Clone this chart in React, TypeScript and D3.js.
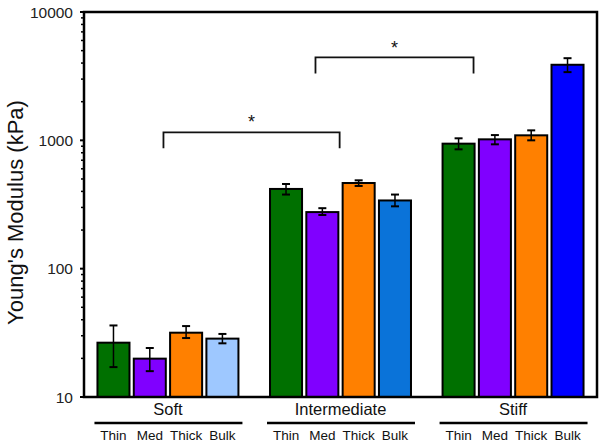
import React from "react";
import * as d3 from "d3";

const groups = ["Soft", "Intermediate", "Stiff"];
const types = ["Thin", "Med", "Thick", "Bulk"];
// values [group][type]
const means = [
  [26.5, 19.9, 31.7, 28.5],
  [418, 276, 465, 340],
  [942, 1018, 1094, 3880],
];
const errLow = [
  [17.1, 15.9, 28.8, 26.2],
  [378, 262, 441, 306],
  [851, 931, 1000, 3400],
];
const errHigh = [
  [36.1, 24.1, 35.7, 31.0],
  [457, 296, 488, 378],
  [1037, 1099, 1196, 4366],
];
const colors = [
  ["#007000", "#8000ff", "#ff8000", "#9ec8ff"],
  ["#007000", "#8000ff", "#ff8000", "#0a73d9"],
  ["#007000", "#8000ff", "#ff8000", "#0000ff"],
];
const yTicks = [10, 100, 1000, 10000];
// brackets: group-position ends, value of top line, tips and star
const brackets = [
  { from: -0.026, to: 0.995, top: 1154, tip: 866, star: 1560 },
  { from: 0.855, to: 1.771, top: 4425, tip: 3320, star: 5900 },
];

export default function App() {
  const W = 600,
    H = 445;
  const left = 84,
    right = 597,
    top = 12,
    bottom = 397;
  const y = d3.scaleLog().domain([10, 10000]).range([bottom, top]);
  const gx = d3
    .scaleBand<string>()
    .domain(groups)
    .range([left, right])
    .paddingInner(0.183)
    .paddingOuter(0.078);
  const bx = d3
    .scaleBand<string>()
    .domain(types)
    .range([0, gx.bandwidth()])
    .paddingInner(0.118)
    .paddingOuter(0);
  const gCenter = d3
    .scaleLinear()
    .domain([0, 1])
    .range([
      (gx(groups[0]) as number) + gx.bandwidth() / 2,
      (gx(groups[1]) as number) + gx.bandwidth() / 2,
    ]);

  const minorTicks: number[] = [];
  for (let d = 10; d < 10000; d *= 10) {
    for (let k = 2; k <= 9; k++) minorTicks.push(d * k);
  }

  const font = "Arial, 'Liberation Sans', sans-serif";
  const capW = 4;

  return (
    <svg width={W} height={H} style={{ position: "absolute", left: 0, top: 0 }} fontFamily={font}>
      <rect x={0} y={0} width={W} height={H} fill="#fff" />
      {/* bars */}
      {groups.map((g, gi) =>
        types.map((t, ti) => {
          const x0 = (gx(g) as number) + (bx(t) as number);
          const bw = bx.bandwidth();
          const cx = x0 + bw / 2;
          return (
            <g key={g + t}>
              <rect
                x={x0}
                y={y(means[gi][ti])}
                width={bw}
                height={bottom - y(means[gi][ti])}
                fill={colors[gi][ti]}
                stroke="#000"
                strokeWidth={2}
              />
              <line x1={cx} x2={cx} y1={y(errLow[gi][ti])} y2={y(errHigh[gi][ti])} stroke="#000" strokeWidth={1.5} />
              <line x1={cx - capW} x2={cx + capW} y1={y(errLow[gi][ti])} y2={y(errLow[gi][ti])} stroke="#000" strokeWidth={2} />
              <line x1={cx - capW} x2={cx + capW} y1={y(errHigh[gi][ti])} y2={y(errHigh[gi][ti])} stroke="#000" strokeWidth={2} />
            </g>
          );
        })
      )}
      {/* frame */}
      <rect x={left} y={top} width={right - left} height={bottom - top} fill="none" stroke="#000" strokeWidth={2.5} />
      {/* y ticks */}
      {yTicks.map((v) => (
        <g key={v}>
          <line x1={left - 4} x2={left} y1={y(v)} y2={y(v)} stroke="#000" strokeWidth={2} />
          <text x={left - 11} y={y(v)} dy="0.36em" textAnchor="end" fontSize={15.5} fill="#222">
            {v}
          </text>
        </g>
      ))}
      {minorTicks.map((v) => (
        <line key={"m" + v} x1={left - 3} x2={left} y1={y(v)} y2={y(v)} stroke="#000" strokeWidth={1.5} />
      ))}
      <text
        transform={`translate(23,${(top + bottom) / 2 + 8}) rotate(-90)`}
        textAnchor="middle"
        fontSize={22}
        fill="#111"
      >
        Young's Modulus (kPa)
      </text>
      {/* group labels */}
      {groups.map((g) => {
        const x0 = gx(g) as number;
        return (
          <g key={"lab" + g}>
            <text x={x0 + gx.bandwidth() / 2} y={415} textAnchor="middle" fontSize={16.5} fill="#111">
              {g}
            </text>
            <line x1={x0 - 3} x2={x0 + gx.bandwidth() + 4} y1={423} y2={423} stroke="#000" strokeWidth={2.5} />
            {types.map((t) => (
              <text
                key={g + t + "l"}
                x={x0 + (bx(t) as number) + bx.bandwidth() / 2}
                y={440}
                textAnchor="middle"
                fontSize={13.5}
                fill="#111"
              >
                {t}
              </text>
            ))}
          </g>
        );
      })}
      {/* significance brackets */}
      {brackets.map((b, i) => {
        const x1 = gCenter(b.from);
        const x2 = gCenter(b.to);
        return (
          <g key={"br" + i}>
            <path
              d={`M${x1},${y(b.tip)}V${y(b.top)}H${x2}V${y(b.tip)}`}
              fill="none"
              stroke="#111"
              strokeWidth={1.8}
            />
            <text x={(x1 + x2) / 2} y={y(b.star)} dy="0.7em" textAnchor="middle" fontSize={18} fill="#111">
              *
            </text>
          </g>
        );
      })}
    </svg>
  );
}
